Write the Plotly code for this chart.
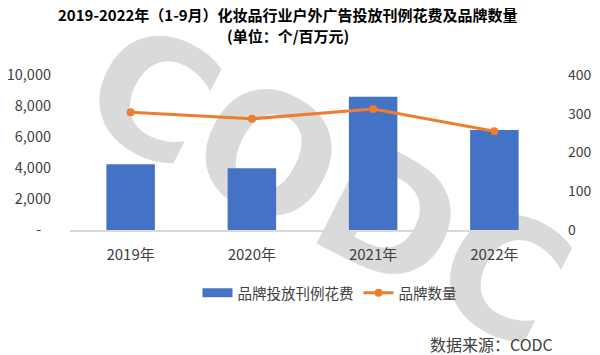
import plotly.graph_objects as go

years = ["2019年", "2020年", "2021年", "2022年"]
spend = [4250, 3980, 8600, 6450]
brands = [304, 287, 312, 255]
left_ticks = [0, 2000, 4000, 6000, 8000, 10000]
left_text = ["-\u00a0\u00a0\u00a0", "2,000", "4,000", "6,000", "8,000", "10,000"]
right_ticks = [0, 100, 200, 300, 400]

FONT = "Noto Sans CJK SC, Microsoft YaHei, sans-serif"

# page body has an 8px margin (visible area 8..592 horizontally);
# place the plot area at page x 70..555, y 75..230
fig = go.Figure()
fig.add_trace(go.Bar(x=years, y=spend, name="品牌投放刊例花费", showlegend=False,
                     marker=dict(color="#4472C4", line=dict(width=0)), width=0.4))
# legend-only entry drawn as a wide block, like the reference legend key
fig.add_trace(go.Scatter(x=[None], y=[None], name="品牌投放刊例花费", mode="lines",
                         line=dict(color="#4472C4", width=9)))
fig.add_trace(go.Scatter(x=years, y=brands, name="品牌数量", yaxis="y2",
                         mode="lines+markers",
                         line=dict(color="#ED7D31", width=3),
                         marker=dict(color="#ED7D31", size=8)))

fig.update_layout(
    width=584, height=347,
    margin=dict(l=62, r=37, t=67, b=125),
    paper_bgcolor="white", plot_bgcolor="rgba(0,0,0,0)",
    font=dict(family=FONT, size=14, color="#404040"),
    showlegend=True,
    legend=dict(orientation="h", x=0.535, xanchor="center", y=-0.406, yanchor="middle",
                font=dict(size=14.5, color="#404040"), itemwidth=30,
                bgcolor="rgba(0,0,0,0)"),
    xaxis=dict(showgrid=False, showline=True, linecolor="#D9D9D9", linewidth=1.5,
               ticks="", tickfont=dict(size=15, color="#404040"), ticklabelstandoff=10,
               automargin=False),
    yaxis=dict(range=[0, 10000], tickvals=left_ticks, ticktext=left_text,
               showgrid=False, zeroline=False, showline=False,
               tickfont=dict(size=14.5, color="#404040"), ticklabelstandoff=18,
               automargin=False),
    yaxis2=dict(range=[0, 400], tickvals=right_ticks, overlaying="y", side="right",
                showgrid=False, zeroline=False, showline=False,
                tickfont=dict(size=14, color="#404040"), ticklabelstandoff=12,
                automargin=False),
    bargap=0.6,
)

# light grey CODC watermark behind the marks
cx, cy = (333 - 70) / 485, (230 - 175) / 155
fig.add_shape(type="rect", xref="paper", yref="paper",
              x0=cx - 0.1, x1=cx + 0.1, y0=cy - 0.1, y1=cy + 0.1,
              line=dict(width=0), fillcolor="rgba(0,0,0,0)", layer="below",
              label=dict(text="<b>CODC</b>", textangle=27, textposition="middle center",
                         font=dict(size=163, color="#DADADA", family="DejaVu Sans")))

fig.add_annotation(text="<b>2019-2022年（1-9月）化妆品行业户外广告投放刊例花费及品牌数量</b>",
                   xref="paper", yref="paper", x=(288 - 70) / 485, y=(230 - 15) / 155,
                   xanchor="center", yanchor="middle", showarrow=False,
                   font=dict(size=15, color="#000000", family=FONT))
fig.add_annotation(text="<b>(单位：个/百万元)</b>",
                   xref="paper", yref="paper", x=(288 - 70) / 485, y=(230 - 36) / 155,
                   xanchor="center", yanchor="middle", showarrow=False,
                   font=dict(size=15, color="#000000", family=FONT))
fig.add_annotation(text="数据来源：CODC", xref="paper", yref="paper",
                   x=(555 - 70) / 485, y=(230 - 344) / 155,
                   xanchor="right", yanchor="middle", showarrow=False,
                   font=dict(size=16, color="#404040", family=FONT))

fig.write_html("out.html")
